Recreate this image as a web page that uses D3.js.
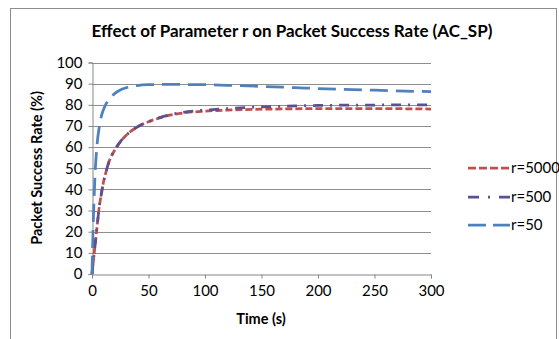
<!DOCTYPE html>
<html>
<head>
<meta charset="utf-8">
<script src="https://cdn.jsdelivr.net/npm/d3@7"></script>
<style>
  html, body { margin: 0; padding: 0; background: #fff; }
  svg { display: block; font-family: Lato, "Open Sans", sans-serif; }
</style>
</head>
<body>
<svg id="chart" width="559" height="339"></svg>
<script>
// Sample times (s)
const times = [0, 1, 2, 3, 4, 5, 6, 8, 10, 12, 15, 20, 25, 30, 40, 50, 60, 70, 80, 100, 120, 150, 180, 200, 250, 300];
// Packet success rate (%) for each r
const r5000 = [0, 5, 10, 15, 20, 25, 30, 37, 43, 47.5, 53, 58.5, 62.5, 65.5, 69.5, 72, 73.8, 75.2, 76.1, 77, 77.5, 77.9, 78.1, 78.2, 78.2, 78];
const r500  = [0, 5, 10, 15, 20, 25, 30, 37, 43, 47.5, 53, 58.5, 62.5, 65.5, 69.5, 72, 74, 75.4, 76.4, 77.5, 78.2, 79, 79.5, 79.7, 79.9, 80];
const r50   = [0, 22, 38, 50, 58, 64, 68, 74, 77.5, 80, 82.5, 85.3, 87, 88, 89.1, 89.5, 89.6, 89.6, 89.6, 89.5, 89.2, 88.7, 88.1, 87.7, 86.9, 86.2];
const xTicks = [0, 50, 100, 150, 200, 250, 300];
const yTicks = [0, 10, 20, 30, 40, 50, 60, 70, 80, 90, 100];

const seriesNames = ["r=5000", "r=500", "r=50"];
const seriesValues = [r5000, r500, r50];
const seriesColors = ["#c0504d", "#5c4f92", "#4f81bd"];
const seriesDash = ["7,3", "10,7,2,7", "18,8"];

const svg = d3.select("#chart");

// outer chart frame
svg.append("rect")
  .attr("x", 10.5).attr("y", 8.5)
  .attr("width", 546).attr("height", 400)
  .attr("fill", "none").attr("stroke", "#8c8c8c").attr("stroke-width", 1);

const plot = { left: 92, right: 431, top: 62.5, bottom: 274 };

const x = d3.scaleLinear().domain([0, 300]).range([plot.left, plot.right]);
const y = d3.scaleLinear().domain([0, 100]).range([plot.bottom, plot.top]);

// horizontal gridlines
svg.append("g")
  .selectAll("line")
  .data(yTicks.filter(d => d > 0))
  .join("line")
  .attr("x1", plot.left).attr("x2", plot.right)
  .attr("y1", d => Math.round(y(d)) + 0.5).attr("y2", d => Math.round(y(d)) + 0.5)
  .attr("stroke", "#8e8e8e").attr("stroke-width", 1);

// y axis
const yAxis = svg.append("g")
  .attr("transform", `translate(${plot.left + 0.5},0)`)
  .call(d3.axisLeft(y).tickValues(yTicks).tickSize(4).tickPadding(6).tickFormat(d3.format("d")));
yAxis.select(".domain").attr("stroke", "#868686");
yAxis.selectAll(".tick line").attr("stroke", "#868686");
yAxis.selectAll(".tick text")
  .attr("font-family", "Lato, sans-serif").attr("font-size", 15).attr("fill", "#000");

// x axis
const xAxis = svg.append("g")
  .attr("transform", `translate(0,${plot.bottom + 0.5})`)
  .call(d3.axisBottom(x).tickValues(xTicks).tickSize(4).tickPadding(7).tickFormat(d3.format("d")));
xAxis.select(".domain").attr("stroke", "#868686");
xAxis.selectAll(".tick line").attr("stroke", "#868686");
xAxis.selectAll(".tick text")
  .attr("font-family", "Lato, sans-serif").attr("font-size", 15).attr("fill", "#000");

// series lines
const line = d3.line()
  .x((d, i) => x(times[i]))
  .y(d => y(d))
  .curve(d3.curveMonotoneX);

seriesValues.forEach((vals, k) => {
  svg.append("path")
    .datum(vals)
    .attr("d", line)
    .attr("fill", "none")
    .attr("stroke", seriesColors[k])
    .attr("stroke-width", 2.75)
    .attr("stroke-dasharray", seriesDash[k]);
});

// title
svg.append("text")
  .attr("x", 292).attr("y", 37)
  .attr("text-anchor", "middle")
  .attr("font-size", 17).attr("font-weight", "bold")
  .text("Effect of Parameter r on Packet Success Rate (AC_SP)");

// axis titles
svg.append("text")
  .attr("x", 261).attr("y", 324)
  .attr("text-anchor", "middle")
  .attr("font-size", 14.5).attr("font-weight", "bold")
  .text("Time (s)");

svg.append("text")
  .attr("transform", "translate(42,168) rotate(-90)")
  .attr("text-anchor", "middle")
  .attr("font-size", 14.5).attr("font-weight", "bold")
  .text("Packet Success Rate (%)");

// legend
const legendY = [168, 197, 225];
const legend = svg.append("g");
seriesNames.forEach((name, k) => {
  legend.append("line")
    .attr("x1", 468).attr("x2", 510)
    .attr("y1", legendY[k]).attr("y2", legendY[k])
    .attr("stroke", seriesColors[k])
    .attr("stroke-width", 2.75)
    .attr("stroke-dasharray", k === 0 ? "8,3" : (k === 1 ? "11,9,2,9" : "18,7"));
  legend.append("text")
    .attr("x", 511).attr("y", legendY[k] + 5)
    .attr("font-size", 15)
    .text(name);
});
</script>
</body>
</html>
